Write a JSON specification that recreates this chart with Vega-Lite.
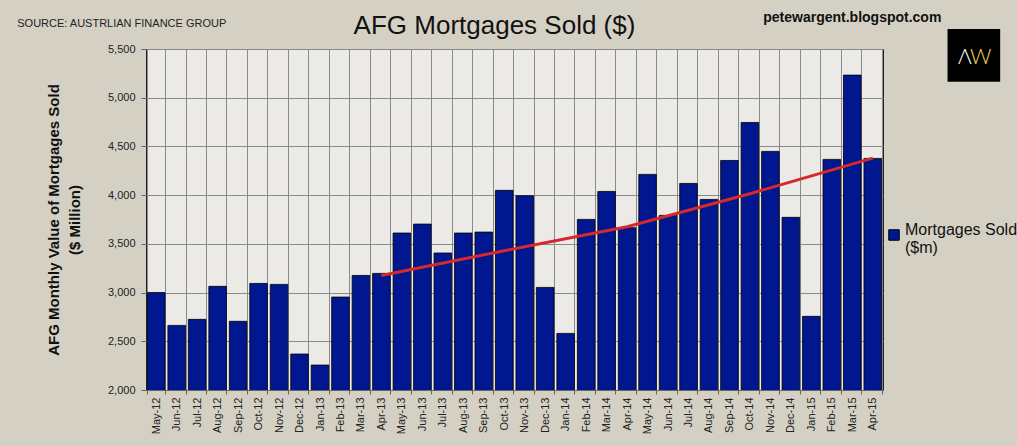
{
  "$schema": "https://vega.github.io/schema/vega-lite/v6.json",
  "width": 737,
  "height": 341,
  "autosize": {"type": "none"},
  "padding": {"left": 146, "top": 49, "right": 134, "bottom": 56},
  "background": "#d5d0c4",
  "title": {"text": "AFG Mortgages Sold ($)", "fontSize": 26, "font": "Liberation Sans", "fontWeight": "normal", "color": "#111111", "anchor": "middle", "dx": -20, "offset": -49, "baseline": "alphabetic"},
  "config": {
    "view": {"fill": "#ebeae6", "stroke": "#222222", "strokeWidth": 1},
    "font": "Liberation Sans"
  },
  "datasets": {
    "bars": [
      {"month": "May-12", "value": 3000, "series": "Mortgages Sold ($m)"},
      {"month": "Jun-12", "value": 2663, "series": "Mortgages Sold ($m)"},
      {"month": "Jul-12", "value": 2725, "series": "Mortgages Sold ($m)"},
      {"month": "Aug-12", "value": 3064, "series": "Mortgages Sold ($m)"},
      {"month": "Sep-12", "value": 2705, "series": "Mortgages Sold ($m)"},
      {"month": "Oct-12", "value": 3094, "series": "Mortgages Sold ($m)"},
      {"month": "Nov-12", "value": 3084, "series": "Mortgages Sold ($m)"},
      {"month": "Dec-12", "value": 2369, "series": "Mortgages Sold ($m)"},
      {"month": "Jan-13", "value": 2256, "series": "Mortgages Sold ($m)"},
      {"month": "Feb-13", "value": 2954, "series": "Mortgages Sold ($m)"},
      {"month": "Mar-13", "value": 3176, "series": "Mortgages Sold ($m)"},
      {"month": "Apr-13", "value": 3197, "series": "Mortgages Sold ($m)"},
      {"month": "May-13", "value": 3611, "series": "Mortgages Sold ($m)"},
      {"month": "Jun-13", "value": 3703, "series": "Mortgages Sold ($m)"},
      {"month": "Jul-13", "value": 3406, "series": "Mortgages Sold ($m)"},
      {"month": "Aug-13", "value": 3611, "series": "Mortgages Sold ($m)"},
      {"month": "Sep-13", "value": 3621, "series": "Mortgages Sold ($m)"},
      {"month": "Oct-13", "value": 4049, "series": "Mortgages Sold ($m)"},
      {"month": "Nov-13", "value": 3994, "series": "Mortgages Sold ($m)"},
      {"month": "Dec-13", "value": 3053, "series": "Mortgages Sold ($m)"},
      {"month": "Jan-14", "value": 2581, "series": "Mortgages Sold ($m)"},
      {"month": "Feb-14", "value": 3751, "series": "Mortgages Sold ($m)"},
      {"month": "Mar-14", "value": 4038, "series": "Mortgages Sold ($m)"},
      {"month": "Apr-14", "value": 3666, "series": "Mortgages Sold ($m)"},
      {"month": "May-14", "value": 4213, "series": "Mortgages Sold ($m)"},
      {"month": "Jun-14", "value": 3792, "series": "Mortgages Sold ($m)"},
      {"month": "Jul-14", "value": 4120, "series": "Mortgages Sold ($m)"},
      {"month": "Aug-14", "value": 3956, "series": "Mortgages Sold ($m)"},
      {"month": "Sep-14", "value": 4356, "series": "Mortgages Sold ($m)"},
      {"month": "Oct-14", "value": 4746, "series": "Mortgages Sold ($m)"},
      {"month": "Nov-14", "value": 4449, "series": "Mortgages Sold ($m)"},
      {"month": "Dec-14", "value": 3772, "series": "Mortgages Sold ($m)"},
      {"month": "Jan-15", "value": 2756, "series": "Mortgages Sold ($m)"},
      {"month": "Feb-15", "value": 4367, "series": "Mortgages Sold ($m)"},
      {"month": "Mar-15", "value": 5232, "series": "Mortgages Sold ($m)"},
      {"month": "Apr-15", "value": 4377, "series": "Mortgages Sold ($m)"}
    ],
    "trend": [
      {"month": "Apr-13", "value": 3175},
      {"month": "Oct-13", "value": 3430},
      {"month": "Apr-14", "value": 3675},
      {"month": "Oct-14", "value": 4015},
      {"month": "Apr-15", "value": 4380}
    ]
  },
  "layer": [
    {
      "data": {"name": "bars"},
      "mark": {"type": "bar", "stroke": "#000000", "strokeWidth": 0.8, "clip": true},
      "encoding": {
        "x": {
          "field": "month", "type": "ordinal",
          "scale": {
            "domain": ["May-12","Jun-12","Jul-12","Aug-12","Sep-12","Oct-12","Nov-12","Dec-12","Jan-13","Feb-13","Mar-13","Apr-13","May-13","Jun-13","Jul-13","Aug-13","Sep-13","Oct-13","Nov-13","Dec-13","Jan-14","Feb-14","Mar-14","Apr-14","May-14","Jun-14","Jul-14","Aug-14","Sep-14","Oct-14","Nov-14","Dec-14","Jan-15","Feb-15","Mar-15","Apr-15"],
            "paddingInner": 0.14, "paddingOuter": 0.07
          },
          "axis": {
            "title": null, "labelAngle": -90, "labelAlign": "right", "labelBaseline": "middle",
            "labelFontSize": 11, "labelFont": "Liberation Sans", "labelColor": "#222222", "labelPadding": 3,
            "tickBand": "extent", "grid": true, "gridColor": "#8a8a8a", "gridWidth": 1,
            "ticks": true, "tickSize": 4, "tickColor": "#666666", "domainColor": "#666666"
          }
        },
        "y": {
          "field": "value", "type": "quantitative",
          "scale": {"domain": [2000, 5500], "nice": false, "zero": false},
          "axis": {
            "title": ["AFG Monthly Value of Mortgages Sold", "($ Million)"],
            "titleFontSize": 15, "titleFontWeight": "bold", "titleFont": "Liberation Sans", "titleColor": "#111111",
            "titlePadding": 25, "titleLineHeight": 21,
            "values": [2000, 2500, 3000, 3500, 4000, 4500, 5000, 5500], "format": ",.0f",
            "labelFontSize": 11, "labelFont": "Liberation Sans", "labelColor": "#222222", "labelPadding": 6,
            "tickSize": 5, "tickColor": "#666666", "grid": true, "gridColor": "#8a8a8a", "gridWidth": 1, "domain": false
          }
        },
        "color": {
          "field": "series", "type": "nominal",
          "scale": {"range": ["#00178f"]},
          "legend": {
            "title": null, "orient": "none", "legendX": 740, "legendY": 178, "padding": 0,
            "symbolType": "square", "symbolSize": 110, "symbolStrokeColor": "#000000", "symbolStrokeWidth": 1,
            "labelFontSize": 16, "labelFont": "Liberation Sans", "labelColor": "#111111",
            "labelExpr": "['Mortgages Sold', '($m)']", "labelBaseline": "alphabetic", "labelOffset": 3, "labelLimit": 200
          }
        }
      }
    },
    {
      "data": {"name": "trend"},
      "mark": {"type": "line", "color": "#d42a2e", "strokeWidth": 3},
      "encoding": {
        "x": {"field": "month", "type": "ordinal"},
        "y": {"field": "value", "type": "quantitative"}
      }
    },
    {
      "data": {"values": [{"label": "SOURCE: AUSTRLIAN FINANCE GROUP", "month": "May-12", "value": 5726}]},
      "mark": {"type": "text", "align": "left", "baseline": "alphabetic", "dx": -139, "fontSize": 11, "font": "Liberation Sans", "color": "#222222"},
      "encoding": {
        "x": {"field": "month", "type": "ordinal"},
        "y": {"field": "value", "type": "quantitative"},
        "text": {"field": "label"}
      }
    },
    {
      "data": {"values": [{"label": "petewargent.blogspot.com", "month": "Mar-15", "value": 5777}]},
      "mark": {"type": "text", "align": "center", "baseline": "alphabetic", "fontSize": 14, "fontWeight": "bold", "font": "Liberation Sans", "color": "#111111"},
      "encoding": {
        "x": {"field": "month", "type": "ordinal"},
        "y": {"field": "value", "type": "quantitative"},
        "text": {"field": "label"}
      }
    },
    {
      "data": {"values": [{"label": "■", "month": "Apr-15", "value": 5470}]},
      "mark": {"type": "text", "align": "center", "baseline": "middle", "dx": 101, "fontSize": 69, "font": "DejaVu Sans", "color": "#000000"},
      "encoding": {
        "x": {"field": "month", "type": "ordinal"},
        "y": {"field": "value", "type": "quantitative"},
        "text": {"field": "label"}
      }
    },
    {
      "data": {"values": [{"label": "Λ", "month": "Apr-15", "value": 5350}]},
      "mark": {"type": "text", "align": "center", "baseline": "alphabetic", "dx": 92, "fontSize": 21, "font": "Lato", "fontWeight": 300, "color": "#ffffff"},
      "encoding": {
        "x": {"field": "month", "type": "ordinal"},
        "y": {"field": "value", "type": "quantitative"},
        "text": {"field": "label"}
      }
    },
    {
      "data": {"values": [{"label": "W", "month": "Apr-15", "value": 5350}]},
      "mark": {"type": "text", "align": "center", "baseline": "alphabetic", "dx": 108, "fontSize": 21, "font": "Lato", "fontWeight": 300, "color": "#e8d64a"},
      "encoding": {
        "x": {"field": "month", "type": "ordinal"},
        "y": {"field": "value", "type": "quantitative"},
        "text": {"field": "label"}
      }
    }
  ]
}
